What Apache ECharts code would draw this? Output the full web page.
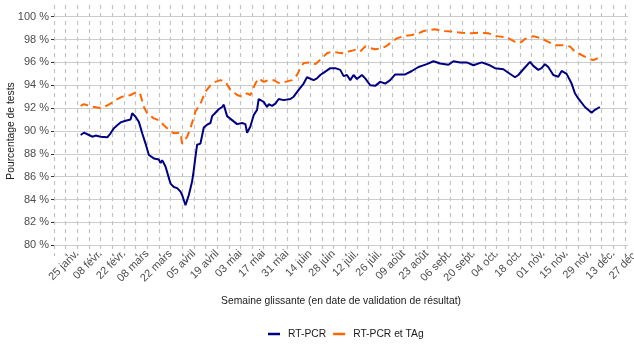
<!DOCTYPE html>
<html>
<head>
<meta charset="utf-8">
<script src="https://cdn.jsdelivr.net/npm/echarts@6/dist/echarts.min.js"></script>
<style>
  html, body { margin: 0; padding: 0; background: #fff; }
  #chart { width: 634px; height: 352px; }
</style>
</head>
<body>
<div id="chart"></div>
<script>
// Semaine glissante 2021 : part des tests validés, RT-PCR seuls vs RT-PCR + TAg.
// Axe x en jours depuis le lundi 11 janvier 2021 (un trait de grille par semaine).
const YEAR = 2021;
const DAY0 = Date.UTC(YEAR, 0, 11);

// Libellés hebdomadaires (un lundi sur deux porte une date, l'autre une virgule)
const weekLabels = [
  "", ",", "25 janv.", ",", "08 févr.", ",", "22 févr.", ",", "08 mars", ",", "22 mars", ",",
  "05 avril", ",", "19 avril", ",", "03 mai", ",", "17 mai", ",", "31 mai", ",", "14 juin", ",",
  "28 juin", ",", "12 juil.", ",", "26 juil.", ",", "09 août", ",", "23 août", ",", "06 sept.", ",",
  "20 sept.", ",", "04 oct.", ",", "18 oct.", ",", "01 nov.", ",", "15 nov.", ",", "29 nov.", ",",
  "13 déc.", ",", "27 déc."
];

const yTicks = [80, 82, 84, 86, 88, 90, 92, 94, 96, 98, 100];

const pcrDates = ["01-27","01-29","02-01","02-03","02-05","02-08","02-12","02-14","02-16","02-18","02-20","02-23","02-26","02-27","03-01","03-03","03-05","03-07","03-09","03-12","03-15","03-16","03-17","03-19","03-21","03-22","03-24","03-26","03-28","03-29","03-31","04-02","04-03","04-04","04-05","04-06","04-07","04-09","04-11","04-13","04-15","04-16","04-18","04-20","04-22","04-23","04-25","04-28","05-01","05-04","05-06","05-07","05-09","05-11","05-13","05-14","05-17","05-19","05-20","05-22","05-24","05-26","05-29","06-02","06-04","06-07","06-10","06-12","06-16","06-18","06-20","06-23","06-26","06-29","07-02","07-04","07-06","07-08","07-10","07-12","07-15","07-17","07-20","07-23","07-26","07-29","08-01","08-04","08-10","08-14","08-18","08-20","08-23","08-27","08-31","09-05","09-08","09-12","09-16","09-20","09-25","09-29","10-03","10-08","10-11","10-15","10-17","10-20","10-24","10-26","10-29","10-31","11-02","11-04","11-07","11-10","11-12","11-15","11-18","11-20","11-22","11-26","11-30","12-02","12-05"];
const pcrValues = [89.65,89.85,89.65,89.5,89.6,89.5,89.45,89.8,90.25,90.5,90.75,90.9,91.0,91.55,91.25,90.8,89.8,88.9,87.9,87.6,87.5,87.2,87.45,86.9,85.9,85.4,85.1,85.0,84.7,84.4,83.5,84.4,85.0,85.6,86.6,87.75,88.8,88.9,90.3,90.55,90.7,91.3,91.6,91.9,92.1,92.3,91.3,90.95,90.6,90.7,90.6,89.85,90.4,91.4,91.85,92.8,92.55,92.1,92.35,92.2,92.4,92.8,92.7,92.8,93.0,93.6,94.15,94.7,94.45,94.6,94.9,95.2,95.5,95.5,95.35,94.8,94.9,94.45,94.9,94.55,94.9,94.6,94.0,93.95,94.3,94.15,94.45,94.95,94.95,95.25,95.6,95.7,95.85,96.1,95.9,95.8,96.1,96.0,96.0,95.75,96.0,95.8,95.5,95.4,95.1,94.7,94.9,95.4,96.05,95.7,95.35,95.5,95.85,95.6,94.9,94.75,95.25,95.0,94.15,93.3,92.85,92.1,91.6,91.85,92.1];

const tagDates = ["01-27","01-29","02-01","02-06","02-09","02-14","02-17","02-21","02-26","03-02","03-04","03-06","03-08","03-12","03-15","03-18","03-21","03-24","03-28","03-29","04-01","04-03","04-06","04-09","04-12","04-15","04-18","04-21","04-24","04-27","05-01","05-04","05-07","05-09","05-12","05-14","05-17","05-20","05-23","05-26","05-30","06-03","06-06","06-08","06-10","06-14","06-17","06-21","06-24","06-27","07-01","07-04","07-07","07-11","07-14","07-17","07-20","07-23","07-27","07-30","08-01","08-05","08-09","08-14","08-18","08-21","08-28","09-01","09-07","09-13","09-19","09-23","09-29","10-04","10-10","10-15","10-18","10-21","10-26","10-31","11-04","11-08","11-13","11-17","11-20","11-24","11-28","12-01","12-05"];
const tagValues = [92.2,92.35,92.2,92.05,92.0,92.4,92.7,93.0,93.15,93.45,93.15,92.1,91.55,91.1,90.95,90.5,90.1,89.8,89.85,88.9,89.5,90.25,91.7,92.4,93.45,94.0,94.3,94.45,94.3,93.6,93.15,93.0,93.3,93.15,94.15,94.6,94.3,94.45,94.45,94.2,94.3,94.45,94.9,95.5,95.95,96.0,95.85,96.35,96.8,96.95,96.85,96.8,96.95,97.1,96.95,97.4,97.25,97.15,97.25,97.45,97.7,98.1,98.3,98.4,98.55,98.75,98.9,98.75,98.7,98.6,98.55,98.6,98.55,98.3,98.2,97.8,97.7,98.05,98.3,98.1,97.8,97.5,97.5,97.4,96.95,96.65,96.35,96.2,96.45];

const seriesNames = ["RT-PCR", "RT-PCR et TAg"];
const seriesColors = ["#000080", "#ff6600"];

function dayIndex(md) {
  const [m, d] = md.split("-").map(Number);
  return (Date.UTC(YEAR, m - 1, d) - DAY0) / 864e5;
}
const pairs = (dates, vals) => dates.map((d, i) => [dayIndex(d), vals[i]]);

const FONT = "'Liberation Sans', Arial, sans-serif";
const PX_PER_DAY = 1.6643;
const LEFT = 54;
const LABEL_DAYS = 364;   // grille étendue (pour le libellé « 27 déc. » coupé)
const PANEL_DAYS = 344.9; // zone de tracé visible

const chart = echarts.init(document.getElementById("chart"), null, { renderer: "canvas" });

chart.setOption({
  animation: false,
  backgroundColor: "#ffffff",
  textStyle: { fontFamily: FONT },
  grid: [
    // grille verticale pointillée + libellés des semaines
    { left: LEFT, top: 5, height: 251, width: LABEL_DAYS * PX_PER_DAY, outerBoundsMode: "none", containLabel: false },
    // zone des courbes (80 % – 100 %)
    { left: LEFT, top: 16.7, height: 228.6, width: PANEL_DAYS * PX_PER_DAY, outerBoundsMode: "none", containLabel: false },
  ],
  xAxis: [
    {
      gridIndex: 0,
      type: "value",
      min: 0,
      max: LABEL_DAYS,
      interval: 7,
      axisLine: { show: false },
      axisTick: { show: false },
      splitLine: { show: true, lineStyle: { color: "#c4c4c4", width: 1.2, type: [4, 4] } },
      axisLabel: {
        rotate: 45,
        margin: -4,
        color: "#4d4d4d",
        fontSize: 11,
        fontFamily: FONT,
        formatter: (v) => weekLabels[Math.round(v / 7)] || "",
      },
    },
    {
      gridIndex: 1,
      type: "value",
      min: 0,
      max: PANEL_DAYS,
      axisLine: { show: false },
      axisTick: { show: false },
      axisLabel: { show: false },
      splitLine: { show: false },
      name: "Semaine glissante (en date de validation de résultat)",
      nameLocation: "middle",
      nameGap: 51,
      nameMoveOverlap: false,
      nameTextStyle: { color: "#1a1a1a", fontSize: 10.3, fontFamily: FONT },
    },
  ],
  yAxis: [
    { gridIndex: 0, type: "value", min: 0, max: 1, show: false },
    {
      gridIndex: 1,
      type: "value",
      min: yTicks[0],
      max: yTicks[yTicks.length - 1],
      interval: 2,
      axisLine: { show: false },
      axisTick: { show: true, length: 3, lineStyle: { color: "#333333" } },
      axisLabel: { color: "#4d4d4d", fontSize: 11, margin: 5, fontFamily: FONT, formatter: (v) => v + " %" },
      splitLine: { show: true, lineStyle: { color: "#cccccc", width: 1.2 } },
      name: "Pourcentage de tests",
      nameLocation: "middle",
      nameRotate: 90,
      nameGap: 38,
      nameMoveOverlap: false,
      nameTextStyle: { color: "#1a1a1a", fontSize: 10.3, fontFamily: FONT },
    },
  ],
  legend: {
    data: seriesNames,
    left: 263,
    top: 324,
    icon: "rect",
    itemWidth: 12,
    itemHeight: 2.5,
    itemGap: 7,
    textStyle: { color: "#1a1a1a", fontSize: 10.3, fontFamily: FONT, padding: [0, 0, 0, 3] },
  },
  series: [
    {
      name: seriesNames[0],
      type: "line",
      xAxisIndex: 1,
      yAxisIndex: 1,
      data: pairs(pcrDates, pcrValues),
      showSymbol: false,
      color: seriesColors[0],
      lineStyle: { color: seriesColors[0], width: 2 },
      z: 3,
    },
    {
      name: seriesNames[1],
      type: "line",
      xAxisIndex: 1,
      yAxisIndex: 1,
      data: pairs(tagDates, tagValues),
      showSymbol: false,
      color: seriesColors[1],
      lineStyle: { color: seriesColors[1], width: 2, type: [8, 5] },
      z: 2,
    },
  ],
});
</script>
</body>
</html>
